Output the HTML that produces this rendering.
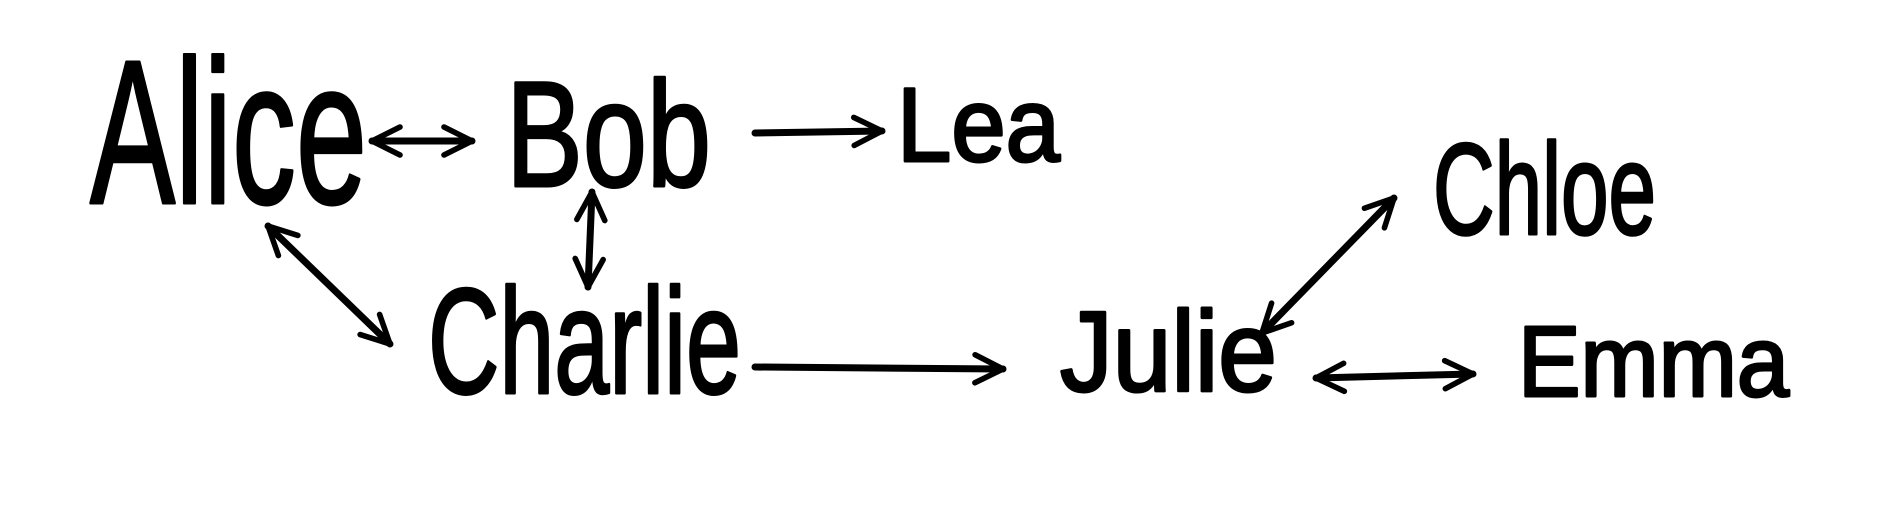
<!DOCTYPE html>
<html><head><meta charset="utf-8"><style>
html,body{margin:0;padding:0;background:#fff;width:1879px;height:525px;overflow:hidden}
svg text{font-family:"Liberation Sans",sans-serif;fill:#000;stroke:#000;stroke-width:3;stroke-linejoin:round}
</style></head><body>
<svg width="1879" height="525" viewBox="0 0 1879 525">
<defs>
<marker id="ah" viewBox="0 0 10 10" refX="9" refY="5" markerWidth="5" markerHeight="5" orient="auto-start-reverse" markerUnits="strokeWidth">
<path d="M1,1 L9,5 L1,9" fill="none" stroke="#000" stroke-width="1.6" stroke-linecap="round" stroke-linejoin="round"/>
</marker>
</defs>
<g stroke="#000" stroke-width="7" stroke-linecap="round" fill="none">
<line x1="372" y1="141" x2="472" y2="141" marker-start="url(#ah)" marker-end="url(#ah)"/>
<line x1="755" y1="133" x2="882" y2="131" marker-end="url(#ah)"/>
<line x1="592" y1="192" x2="588" y2="287" marker-start="url(#ah)" marker-end="url(#ah)"/>
<line x1="268" y1="226" x2="390" y2="344" marker-start="url(#ah)" marker-end="url(#ah)"/>
<line x1="755" y1="367" x2="1003" y2="369" marker-end="url(#ah)"/>
<line x1="1394" y1="198" x2="1262" y2="333" marker-start="url(#ah)" marker-end="url(#ah)"/>
<line x1="1316" y1="378" x2="1473" y2="374" marker-start="url(#ah)" marker-end="url(#ah)"/>
</g>
<text x="90" y="203" font-size="205" textLength="277" lengthAdjust="spacingAndGlyphs">Alice</text>
<text x="506" y="186" font-size="150" textLength="205" lengthAdjust="spacingAndGlyphs">Bob</text>
<text x="897" y="161" font-size="105" textLength="163" lengthAdjust="spacingAndGlyphs">Lea</text>
<text x="1433" y="234" font-size="130" textLength="223" lengthAdjust="spacingAndGlyphs">Chloe</text>
<text x="428" y="393" font-size="150" textLength="313" lengthAdjust="spacingAndGlyphs">Charlie</text>
<text x="1060" y="391" font-size="114" textLength="217" lengthAdjust="spacingAndGlyphs">Julie</text>
<text x="1518" y="396" font-size="100" textLength="271" lengthAdjust="spacingAndGlyphs">Emma</text>
</svg>
</body></html>
